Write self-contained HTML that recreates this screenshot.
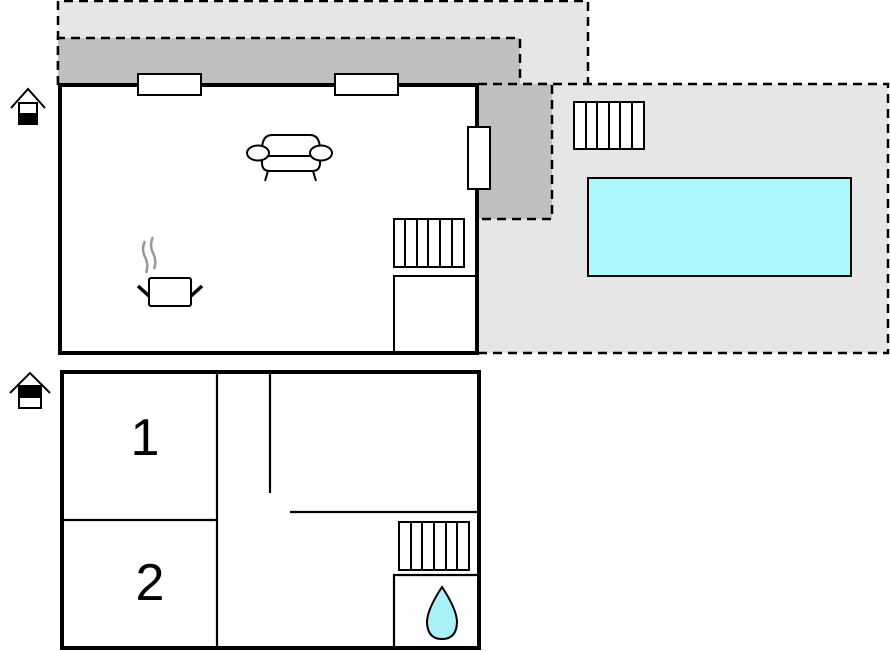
<!DOCTYPE html>
<html><head><meta charset="utf-8"><style>html,body{margin:0;padding:0;background:#fff}svg{display:block}</style></head>
<body>
<svg width="890" height="652" viewBox="0 0 890 652" xmlns="http://www.w3.org/2000/svg">
<rect x="58" y="1" width="530" height="84" fill="#e6e6e6"/>
<path d="M58,85 V1 H588 V84" fill="none" stroke="#000" stroke-width="2.5" stroke-dasharray="9,6"/>
<rect x="478" y="84" width="410" height="269" fill="#e6e6e6"/>
<path d="M478,84 H888 V353 H478" fill="none" stroke="#000" stroke-width="2.5" stroke-dasharray="9,6"/>
<rect x="58" y="38" width="462" height="47" fill="#c0c0c0"/>
<rect x="478" y="84" width="74" height="135" fill="#c0c0c0"/>
<path d="M58,85 V38 H520 V84" fill="none" stroke="#000" stroke-width="2.5" stroke-dasharray="9,6"/>
<path d="M478,84 H552 V219 H478" fill="none" stroke="#000" stroke-width="2.5" stroke-dasharray="9,6"/>
<rect x="60" y="85" width="417" height="268" fill="#fff" stroke="#000" stroke-width="4"/>
<rect x="138" y="74" width="63" height="21" fill="#fff" stroke="#000" stroke-width="2"/>
<rect x="335" y="74" width="63" height="21" fill="#fff" stroke="#000" stroke-width="2"/>
<rect x="468" y="127" width="22" height="62" fill="#fff" stroke="#000" stroke-width="2"/>
<g stroke="#000" stroke-width="2" fill="#fff">
<rect x="394" y="219" width="70" height="48"/>
<path d="M405,219V267M417,219V267M428,219V267M440,219V267M452,219V267"/>
<path d="M394,353V276H477" fill="none"/>
</g>
<g stroke="#000" stroke-width="2" fill="#fff">
<path d="M262,150 Q262,135 272,135 H310 Q320,135 320,150 V163 Q320,171 312,171 H270 Q262,171 262,163 Z"/>
<line x1="264" y1="156" x2="318" y2="156"/>
<ellipse cx="258" cy="153" rx="11" ry="7.5"/>
<ellipse cx="321" cy="153" rx="11" ry="7.5"/>
<path d="M268,171 L265,181 M313,171 L316,181" fill="none"/>
</g>
<g>
<path d="M145,241 Q141,249 145,257 Q149,265 146,273 M153,237 Q149,245 153,253 Q157,261 154,269" fill="none" stroke="#999" stroke-width="2.5"/>
<rect x="149" y="278" width="42" height="28" rx="2" fill="#fff" stroke="#000" stroke-width="2"/>
<path d="M138,286 L149,296 M202,286 L191,296" stroke="#000" stroke-width="3.5"/>
</g>
<g stroke="#000" stroke-width="2" fill="#fff">
<rect x="574" y="102" width="70" height="47"/>
<path d="M586,102V149M597,102V149M609,102V149M620,102V149M632,102V149"/>
</g>
<rect x="588" y="178" width="263" height="98" fill="#aaf8fc" stroke="#000" stroke-width="2"/>
<g stroke="#000" stroke-width="2" fill="none">
<path d="M11,108 L28,89 L45,108"/>
<rect x="19" y="103" width="18" height="21" fill="#fff"/>
<rect x="19" y="114" width="18" height="10" fill="#000"/>
</g>
<rect x="62" y="372" width="417" height="276" fill="#fff" stroke="#000" stroke-width="4"/>
<g stroke="#000" stroke-width="2.2" fill="none">
<line x1="217" y1="372" x2="217" y2="648"/>
<line x1="62" y1="520" x2="217" y2="520"/>
<line x1="270" y1="372" x2="270" y2="493"/>
<line x1="290" y1="512" x2="477" y2="512"/>
<path d="M394,648V575H477"/>
</g>
<g stroke="#000" stroke-width="2" fill="#fff">
<rect x="399" y="522" width="70" height="48"/>
<path d="M411,522V570M422,522V570M434,522V570M446,522V570M457,522V570"/>
</g>
<path d="M442,587 Q428,608 427,621 Q427,639 442,639 Q457,639 457,621 Q456,608 442,587 Z" fill="#aaf0f8" stroke="#000" stroke-width="2"/>
<text x="145" y="455" font-family="Liberation Sans, sans-serif" font-size="52" text-anchor="middle">1</text>
<text x="150" y="600" font-family="Liberation Sans, sans-serif" font-size="52" text-anchor="middle">2</text>
<g stroke="#000" stroke-width="2" fill="none">
<path d="M10,393 L30,373 L50,393"/>
<rect x="19" y="386" width="22" height="22" fill="#fff"/>
<rect x="19" y="386" width="22" height="11" fill="#000"/>
</g>
</svg>
</body></html>
